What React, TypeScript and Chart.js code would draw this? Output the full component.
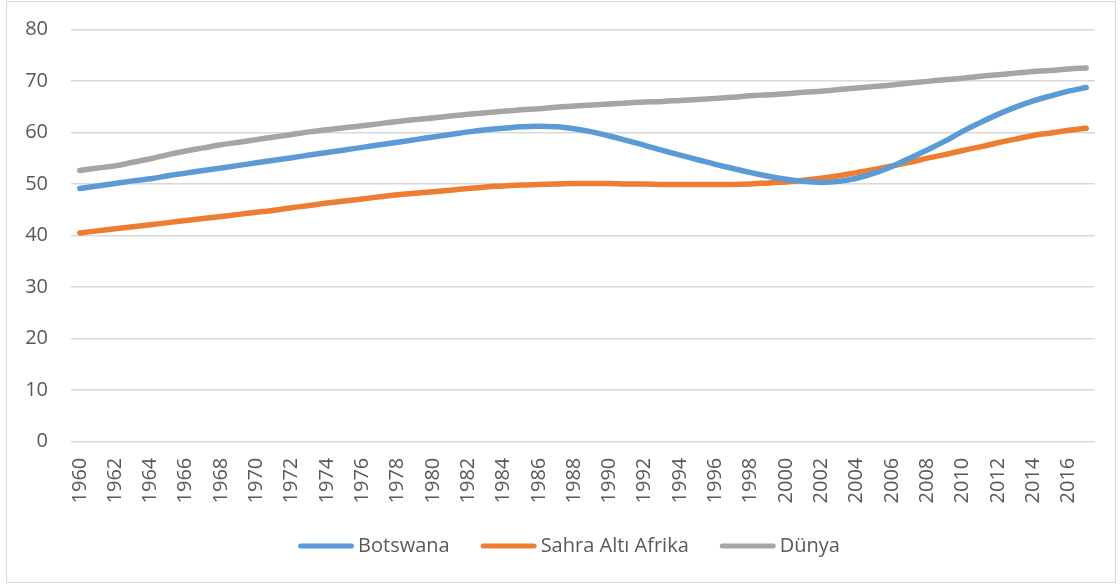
import React, { useEffect, useRef } from "react";
import { Chart, registerables } from "chart.js";

Chart.register(...registerables);

const years: string[] = [
  "1960","1961","1962","1963","1964","1965","1966","1967","1968","1969",
  "1970","1971","1972","1973","1974","1975","1976","1977","1978","1979",
  "1980","1981","1982","1983","1984","1985","1986","1987","1988","1989",
  "1990","1991","1992","1993","1994","1995","1996","1997","1998","1999",
  "2000","2001","2002","2003","2004","2005","2006","2007","2008","2009",
  "2010","2011","2012","2013","2014","2015","2016","2017",
];

const botswana: number[] = [
  49.1, 49.6, 50.1, 50.6, 51.0, 51.6, 52.1, 52.6, 53.1, 53.6,
  54.1, 54.6, 55.1, 55.6, 56.1, 56.6, 57.1, 57.6, 58.1, 58.6,
  59.1, 59.6, 60.1, 60.5, 60.8, 61.1, 61.2, 61.1, 60.7, 60.1,
  59.3, 58.4, 57.5, 56.5, 55.6, 54.7, 53.8, 53.0, 52.2, 51.5,
  50.9, 50.5, 50.3, 50.5, 51.1, 52.1, 53.4, 55.0, 56.6, 58.3,
  60.2, 61.9, 63.5, 64.9, 66.1, 67.1, 68.0, 68.7,
];

const sahraAltiAfrika: number[] = [
  40.5, 40.9, 41.3, 41.7, 42.1, 42.5, 42.9, 43.3, 43.7, 44.1,
  44.5, 44.9, 45.4, 45.8, 46.3, 46.7, 47.1, 47.5, 47.9, 48.2,
  48.5, 48.8, 49.1, 49.4, 49.6, 49.8, 49.9, 50.0, 50.1, 50.1,
  50.1, 50.0, 50.0, 49.9, 49.9, 49.9, 49.9, 49.9, 50.0, 50.2,
  50.4, 50.7, 51.1, 51.6, 52.2, 52.8, 53.5, 54.2, 55.0, 55.7,
  56.5, 57.2, 58.0, 58.7, 59.4, 59.9, 60.4, 60.8,
];

const dunya: number[] = [
  52.6, 53.1, 53.5, 54.2, 54.9, 55.7, 56.4, 57.0, 57.6, 58.1,
  58.6, 59.1, 59.6, 60.1, 60.5, 60.9, 61.3, 61.7, 62.1, 62.5,
  62.8, 63.2, 63.5, 63.8, 64.1, 64.4, 64.6, 64.9, 65.1, 65.3,
  65.5, 65.7, 65.9, 66.0, 66.2, 66.4, 66.6, 66.8, 67.1, 67.3,
  67.5, 67.8, 68.0, 68.3, 68.6, 68.9, 69.2, 69.6, 69.9, 70.2,
  70.5, 70.9, 71.2, 71.5, 71.8, 72.0, 72.3, 72.5,
];

const seriesNames: string[] = ["Botswana", "Sahra Altı Afrika", "Dünya"];
const seriesColors: string[] = ["#5B9BD5", "#ED7D31", "#A5A5A5"];

const FONT = '"Open Sans", "Noto Sans", sans-serif';
const TEXT_COLOR = "#595959";
const CLEAR = "rgba(0,0,0,0)";

const customLegend = {
  id: "customLegend",
  afterDraw(chart: any) {
    const ctx = chart.ctx;
    ctx.save();
    ctx.font = `20px ${FONT}`;
    const lineW = 56;
    const gapText = 4;
    const gapItem = 31;
    const items = chart.data.datasets.map((ds: any) => ({
      label: ds.label,
      color: ds.borderColor,
      w: ctx.measureText(ds.label).width,
    }));
    const total =
      items.reduce((s: number, it: any) => s + lineW + gapText + it.w, 0) +
      gapItem * (items.length - 1);
    let x = chart.width / 2 + 9 - total / 2;
    const y = 546;
    for (const it of items) {
      ctx.strokeStyle = it.color;
      ctx.lineWidth = 5;
      ctx.lineCap = "round";
      ctx.beginPath();
      ctx.moveTo(x + 2.5, y);
      ctx.lineTo(x + lineW - 2.5, y);
      ctx.stroke();
      ctx.fillStyle = TEXT_COLOR;
      ctx.textAlign = "left";
      ctx.textBaseline = "middle";
      ctx.fillText(it.label, x + lineW + gapText, y);
      x += lineW + gapText + it.w + gapItem;
    }
    ctx.restore();
  },
};

export default function App() {
  const canvasRef = useRef<HTMLCanvasElement | null>(null);

  useEffect(() => {
    if (!canvasRef.current) return;
    const values = [botswana, sahraAltiAfrika, dunya];
    const chart = new Chart(canvasRef.current, {
      type: "line",
      data: {
        labels: years,
        datasets: seriesNames.map((name, i) => ({
          label: name,
          data: values[i],
          borderColor: seriesColors[i],
          backgroundColor: seriesColors[i],
          borderWidth: 5.5,
          borderCapStyle: "round" as const,
          borderJoinStyle: "round" as const,
          pointRadius: 0,
          pointHoverRadius: 0,
          tension: 0.4,
          fill: false,
        })),
      },
      options: {
        animation: false,
        responsive: false,
        maintainAspectRatio: false,
        layout: {
          padding: { left: 0, right: 25, top: 29.3, bottom: 73.3 },
        },
        plugins: {
          legend: { display: false },
          tooltip: { enabled: false },
        },
        scales: {
          x: {
            offset: true,
            grid: {
              display: true,
              drawOnChartArea: false,
              drawTicks: true,
              tickLength: 16,
              color: CLEAR,
              tickColor: CLEAR,
            },
            border: { display: false },
            ticks: {
              autoSkip: false,
              minRotation: 90,
              maxRotation: 90,
              padding: 0,
              color: TEXT_COLOR,
              font: { family: FONT, size: 20 },
              callback: (_v: any, i: number) => (i % 2 === 0 ? years[i] : ""),
            },
            afterFit: (scale: any) => {
              scale.height = 70;
            },
          },
          y: {
            min: 0,
            max: 80,
            grid: {
              color: "#D9D9D9",
              lineWidth: 1.5,
              drawTicks: true,
              tickLength: 23,
              tickColor: CLEAR,
            },
            border: { display: false },
            ticks: {
              stepSize: 10,
              padding: 0,
              color: TEXT_COLOR,
              font: { family: FONT, size: 20 },
            },
            afterFit: (scale: any) => {
              scale.width = 71;
            },
          },
        },
      },
      plugins: [customLegend],
    });
    return () => chart.destroy();
  }, []);

  return (
    <div style={{ position: "absolute", left: 0, top: 0, width: 1120, height: 585, background: "#fff" }}>
      <div
        style={{
          position: "absolute",
          left: 6,
          top: 1,
          width: 1110,
          height: 582,
          border: "1px solid #D9D9D9",
          boxSizing: "border-box",
        }}
      />
      <canvas
        ref={canvasRef}
        width={1120}
        height={585}
        style={{ position: "absolute", left: 0, top: 0, width: 1120, height: 585 }}
      />
    </div>
  );
}
